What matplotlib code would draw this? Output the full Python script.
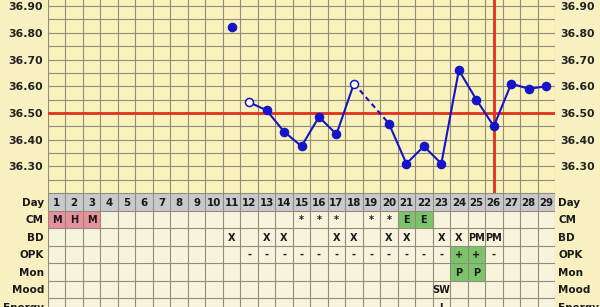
import matplotlib.pyplot as plt
from matplotlib.patches import Rectangle

# temperatures by cycle day (None = no reading)
days = list(range(1, 30))
temps = {11: 36.82, 12: 36.54, 13: 36.51, 14: 36.43, 15: 36.375, 16: 36.485,
         17: 36.42, 18: 36.61, 20: 36.46, 21: 36.31, 22: 36.375, 23: 36.31,
         24: 36.66, 25: 36.55, 26: 36.45, 27: 36.61, 28: 36.59, 29: 36.60}
open_days = [12, 18]
solid_runs = [[12, 13, 14, 15, 16, 17, 18], [20, 21, 22, 23, 24, 25, 26, 27, 28, 29]]
dashed_runs = [[18, 20]]
cover_line = 36.50
ovulation_day = 26
ytick_vals = [36.30, 36.40, 36.50, 36.60, 36.70, 36.80, 36.90]

row_names = ['Day', 'CM', 'BD', 'OPK', 'Mon', 'Mood', 'Energy']
cm = {1: 'M', 2: 'H', 3: 'M', 15: '*', 16: '*', 17: '*', 19: '*', 20: '*', 21: 'E', 22: 'E'}
bd = {11: 'X', 13: 'X', 14: 'X', 17: 'X', 18: 'X', 20: 'X', 21: 'X', 23: 'X', 24: 'X',
      25: 'PM', 26: 'PM'}
opk = {d: '-' for d in range(12, 24)}
opk.update({24: '+', 25: '+', 26: '-'})
mon = {24: 'P', 25: 'P'}
mood = {23: 'SW'}
energy = {23: 'I'}
table_rows = [cm, bd, opk, mon, mood, energy]
cell_colors = {('CM', 'M'): '#e8909e', ('CM', 'H'): '#e8909e', ('CM', 'E'): '#7cc46c',
               ('OPK', '+'): '#7cc46c', ('Mon', 'P'): '#7cc46c'}

bg = '#f8f0c0'
chart_bg = '#f9f2bd'
cell_bg = '#f8f3dc'
grid_c = '#938c76'
blue = '#1414c8'
red = '#e0301e'

fig = plt.figure(figsize=(6, 3.07), dpi=100, facecolor=bg)
left, width = 48 / 600, (555 - 48) / 600
split = (307 - 193) / 307

# --- temperature chart ---
ax = fig.add_axes([left, split, width, 1 - split])
ax.set_facecolor(chart_bg)
ax.set_xlim(0.5, 29.5)
ax.set_ylim(36.20, 36.923)
for k in range(30):
    ax.axvline(0.5 + k, color=grid_c, lw=0.8, zorder=1)
y = 36.20
while y < 36.93:
    ax.axhline(y, color=grid_c, lw=0.8, zorder=1)
    y += 0.05
ax.axhline(cover_line, color=red, lw=2, zorder=2)
ax.axvline(ovulation_day, color=red, lw=2, zorder=2)

for run in solid_runs:
    ax.plot(run, [temps[d] for d in run], color=blue, lw=1.5, zorder=3)
for run in dashed_runs:
    ax.plot(run, [temps[d] for d in run], color=blue, lw=1.5, ls=(0, (2.5, 1.8)), zorder=3)
for d, t in temps.items():
    face = 'white' if d in open_days else blue
    ax.plot(d, t, 'o', ms=5.8, mfc=face, mec=blue, mew=1.1, zorder=4)

ax.set_xticks([])
ax.set_yticks(ytick_vals)
ax.set_yticklabels([f'{v:.2f}' for v in ytick_vals], fontweight='bold', fontsize=7.8,
                   color='#222222')
ax.tick_params(axis='y', length=0, pad=4, labelright=True)
for s in ax.spines.values():
    s.set_visible(False)

# --- data table ---
tb = fig.add_axes([left, 0, width, split])
tb.set_facecolor(cell_bg)
tb.set_xlim(0.5, 29.5)
tb.set_ylim(114 / 17.5, 0)
tb.axis('off')
tb.add_patch(Rectangle((0.5, 0), 29, 7, facecolor=cell_bg, edgecolor='none', zorder=0))
tb.add_patch(Rectangle((0.5, 0), 29, 1, facecolor='#c9c9cd', edgecolor='none', zorder=1))

for r, (name, row) in enumerate(zip(row_names[1:], table_rows), start=1):
    for d, txt in row.items():
        col = cell_colors.get((name, txt))
        if col:
            tb.add_patch(Rectangle((d - 0.5, r), 1, 1, facecolor=col, edgecolor='none', zorder=1))
        tb.text(d, r + 0.55, txt, ha='center', va='center', fontsize=7,
                fontweight='bold', color='#1a1a1a', zorder=3)

for d in days:
    tb.text(d, 0.55, str(d), ha='center', va='center', fontsize=7.4,
            fontweight='bold', color='#1a1a1a', zorder=3)

for k in range(30):
    tb.plot([0.5 + k, 0.5 + k], [0, 7], color=grid_c, lw=0.8, zorder=2)
for r in range(8):
    tb.plot([0.5, 29.5], [r, r], color=grid_c, lw=0.8, zorder=2)

for r, name in enumerate(row_names):
    tb.text(0.27, r + 0.55, name, ha='right', va='center', fontsize=7.5,
            fontweight='bold', color='#1a1a1a', clip_on=False)
    tb.text(29.7, r + 0.55, name, ha='left', va='center', fontsize=7.5,
            fontweight='bold', color='#1a1a1a', clip_on=False)

fig.savefig('out.png', dpi=100, facecolor=bg)
